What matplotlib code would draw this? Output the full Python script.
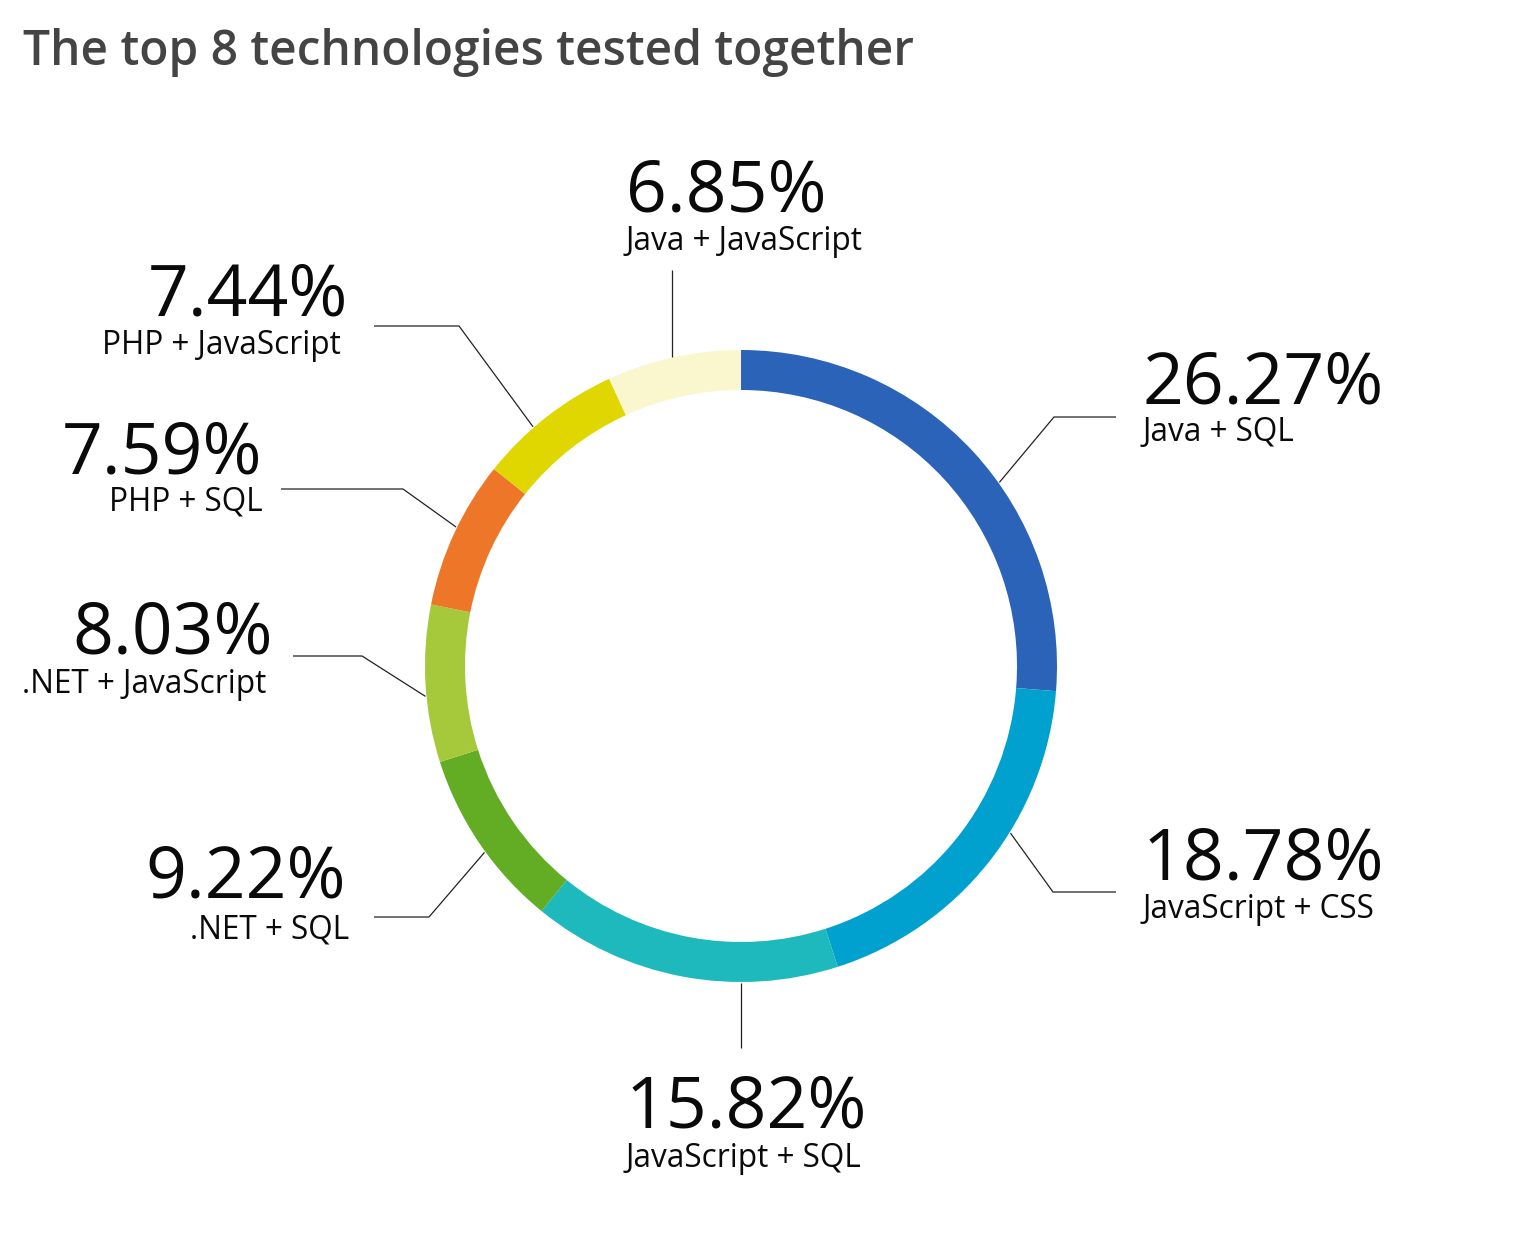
import matplotlib
matplotlib.use("Agg")
import matplotlib.pyplot as plt
import numpy as np

# ---- data ----
categories = ["Java + SQL", "JavaScript + CSS", "JavaScript + SQL", ".NET + SQL",
              ".NET + JavaScript", "PHP + SQL", "PHP + JavaScript", "Java + JavaScript"]
shares = [26.27, 18.78, 15.82, 9.22, 8.03, 7.59, 7.44, 6.85]
colors = ["#2a63b8", "#00a1cf", "#1db9bd", "#62ad24",
          "#a5c93b", "#ee7628", "#e0d700", "#faf6cd"]
title = "The top 8 technologies tested together"

# ---- layout (pixel coordinates, y measured from top) ----
W, H = 1528, 1256
CX, CY = 741, 666
R_OUT, RING = 316, 40
# leader: angle (deg clockwise from top), elbow (x or None for vertical, y), end x (None = no horizontal run)
# text: number x, label x, alignment, number baseline, label baseline
layout = [
    dict(ang=54.6,  elbow=(1054, 417), end=1116, nx=1143, lx=1143, ha="left",  nb=403,  lb=441),
    dict(ang=121.8, elbow=(1053, 892), end=1116, nx=1143, lx=1143, ha="left",  nb=880,  lb=918),
    dict(ang=180.0, elbow=(None, 1048), end=None, nx=626, lx=626, ha="left",  nb=1128, lb=1167),
    dict(ang=234.0, elbow=(429, 917),  end=374,  nx=346,  lx=349,  ha="right", nb=898,  lb=938),
    dict(ang=264.5, elbow=(362, 656),  end=293,  nx=273,  lx=266,  ha="right", nb=654,  lb=693),
    dict(ang=296.0, elbow=(403, 489),  end=281,  nx=262,  lx=263,  ha="right", nb=473,  lb=511),
    dict(ang=319.0, elbow=(459, 326),  end=374,  nx=348,  lx=341,  ha="right", nb=316,  lb=354),
    dict(ang=347.4, elbow=(None, 270), end=None, nx=626,  lx=626,  ha="left",  nb=212,  lb=250),
]

FONT = ["Open Sans", "DejaVu Sans"]
plt.rcParams["font.family"] = FONT

fig = plt.figure(figsize=(W / 100, H / 100), dpi=100)
ax = fig.add_axes([0, 0, 1, 1])

def Y(y):
    return H - y

ax.pie(shares, colors=colors, startangle=90, counterclock=False,
       center=(CX, Y(CY)), radius=R_OUT,
       wedgeprops=dict(width=RING, linewidth=0, antialiased=True))
ax.set_xlim(0, W)
ax.set_ylim(0, H)
ax.set_aspect("equal")
ax.axis("off")

for cat, val, L in zip(categories, shares, layout):
    a = np.deg2rad(L["ang"])
    sx = CX + (R_OUT + 1) * np.sin(a)
    sy = CY - (R_OUT + 1) * np.cos(a)
    ex, ey = L["elbow"]
    if ex is None:
        ex = sx
    xs = [sx, ex]
    ys = [sy, ey]
    if L["end"] is not None:
        xs.append(L["end"])
        ys.append(ey)
    ax.plot(xs, [Y(v) for v in ys], color="#222222", lw=0.9, solid_capstyle="butt")
    ax.text(L["nx"], Y(L["nb"]), f"{val:.2f}%", ha=L["ha"], va="baseline",
            fontsize=51.5, color="#0a0a0a")
    ax.text(L["lx"], Y(L["lb"]), cat, ha=L["ha"], va="baseline",
            fontsize=22.7, color="#0a0a0a")

fig.text(23 / W, 1 - 65 / H, title, ha="left", va="baseline",
         fontsize=34.5, fontweight="semibold", color="#444444")

fig.savefig("out.png", dpi=100, facecolor="white")
